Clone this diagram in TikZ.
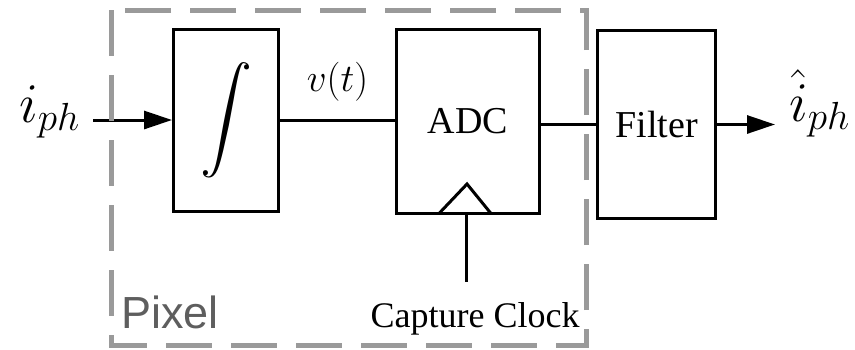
\RequirePackage{fix-cm}
\documentclass[tikz,border=0pt]{standalone}
\usepackage{amsmath}
\DeclareFontShape{OMX}{cmex}{m}{n}{<-> cmex10}{}
\usepackage[no-math]{fontspec}
\setmainfont{Liberation Serif}
\newfontfamily\pixfont{Liberation Sans}
\usepackage{tikz}
\usetikzlibrary{arrows.meta,positioning,calc}
\definecolor{dashgray}{HTML}{9A9A9A}
\definecolor{txtgray}{HTML}{5E5E5E}
\newcommand{\fsz}[1]{\fontsize{#1}{#1}\selectfont}

\begin{document}
\begin{tikzpicture}[
  x=1pt, y=-1pt, >={Triangle[length=28pt,width=18pt]},
  box/.style={draw, line width=3pt, inner sep=0pt, font=\fsz{38}},
  sig/.style={line width=3pt},
  pixbox/.style={draw=dashgray, line width=5pt, dash pattern=on 46pt off 19pt}
]
\useasboundingbox (0,0) rectangle (855,349);
% blocks
\node[box, minimum width=105pt, minimum height=182pt] (int) at (226,120)
  {\fsz{52}$\displaystyle\int$};
\node[box, minimum width=143pt, minimum height=184pt,
      right=115pt of int, yshift=-1.5pt] (adc) {ADC};
\node[box, minimum width=118pt, minimum height=188pt,
      right=55pt of adc, yshift=-3pt] (filt) {Filter};
% signal labels
\node[anchor=base east, inner sep=0pt, font=\fsz{56}] (iin) at (80,122) {$i_{ph}$};
\node[anchor=base west, inner sep=0pt, font=\fsz{56}] (iout) at (789,121) {$\hat{i}_{ph}$};
\coordinate (clkin) at (466,282);
\node[anchor=base, inner sep=0pt, font=\fsz{36}] (capclk) at (475,327) {Capture Clock};
% connectors
\draw[sig,->] ($(int.west -| iin.east)+(13,0)$) -- (int.west);
\draw[sig] (int.east) -- node[above=17pt, inner sep=0pt, font=\fsz{39}]{$v(t)$}
  (int.east -| adc.west);
\draw[sig] (adc.east |- filt.west) -- (filt.west);
\draw[sig,->] (filt.east) -- ($(filt.east -| iout.west)+(-14,0)$);
% clock input
\draw[sig] ([xshift=-29pt,yshift=1.5pt]adc.south) -- ([xshift=-1pt,yshift=31pt]adc.south)
  -- ([xshift=23pt,yshift=1.5pt]adc.south);
\draw[sig] (adc.south -| clkin) -- (clkin);
% pixel boundary
\draw[pixbox] (111,10) rectangle (586,345);
\node[anchor=base west, inner sep=0pt, text=txtgray, font=\pixfont\fsz{45}] (pixlbl)
  at (121,328) {Pixel};
\end{tikzpicture}
\end{document}
